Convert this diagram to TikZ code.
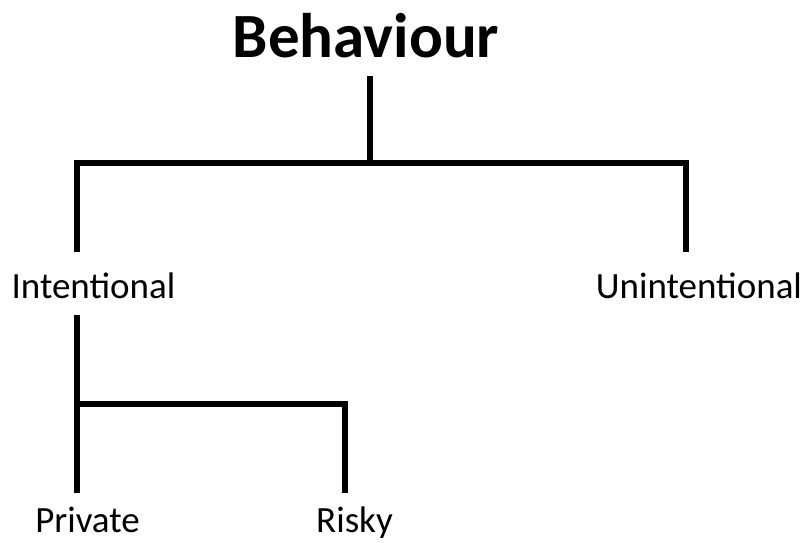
\documentclass[tikz,border=0pt]{standalone}
\usepackage{fontspec}
\setmainfont{Carlito}
\begin{document}
\begin{tikzpicture}[x=1pt,y=-1pt,
  label/.style={anchor=base,inner sep=0pt,font=\fontsize{37}{42}\selectfont},
  title/.style={anchor=base,inner sep=0pt,font=\fontsize{63}{70}\selectfont\bfseries},
  branch/.style={line width=6pt,line cap=rect,line join=miter}]
\useasboundingbox (0,0) rectangle (806,542);
% labels
\node[title] (beh) at (366,57) {Behaviour};
\node[label] (int) at (93.5,298) {Intentional};
\node[label] (unint) at (699,298) {Unintentional};
\node[label] (priv) at (87.5,532) {Private};
\node[label] (risky) at (354.5,532) {Risky};
% tree junctions and stems
\coordinate (behstem) at (370,79);
\coordinate (top) at (370,163);
\coordinate (topL) at (77,163);
\coordinate (topR) at (686,163);
\coordinate (intin) at (77,249);
\coordinate (unintin) at (686,249);
\coordinate (intstem) at (77,318);
\coordinate (mid) at (77,404);
\coordinate (midR) at (345,404);
\coordinate (privin) at (77,490);
\coordinate (riskyin) at (345,490);
% first level
\draw[branch] (behstem) -- (top);
\draw[branch] (intin) -- (topL) -- (topR) -- (unintin);
% second level
\draw[branch] (intstem) -- (privin);
\draw[branch] (mid) -- (midR) -- (riskyin);
\end{tikzpicture}
\end{document}
